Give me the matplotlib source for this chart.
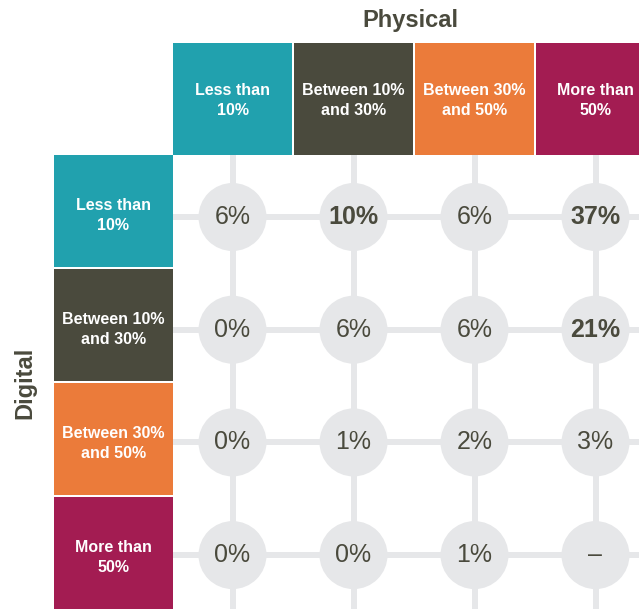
import matplotlib
matplotlib.use("Agg")
import matplotlib.pyplot as plt
from matplotlib.patches import Rectangle, Circle

# data
categories = ["Less than\n10%", "Between 10%\nand 30%", "Between 30%\nand 50%", "More than\n50%"]
# rows = digital share, columns = physical share (None = no data)
values = [
    [6, 10, 6, 37],
    [0, 6, 6, 21],
    [0, 1, 2, 3],
    [0, 0, 1, None],
]
col_title = "Physical"
row_title = "Digital"

TEAL = "#21a1ae"; DARK = "#4a4a3d"; ORANGE = "#eb7b3a"; MAGENTA = "#a31c52"
CAT_COLORS = [TEAL, DARK, ORANGE, MAGENTA]
GRID = "#e6e7e9"
INK = "#4a4a3d"
plt.rcParams["font.family"] = ["Liberation Sans", "DejaVu Sans"]

W, H = 639, 609
fig = plt.figure(figsize=(W / 100, H / 100), dpi=100)
ax = fig.add_axes([0, 0, 1, 1])
ax.set_xlim(0, W); ax.set_ylim(H, 0)
ax.axis("off")

# layout in pixels
X0, CW, GAP = 173, 121, 2      # grid columns
Y0, RH = 156, 114              # grid rows
HEAD_TOP = 43
ROW_LEFT = 54
R = 34

def cx(i): return X0 + i * CW + (CW - GAP) / 2
def cy(j): return Y0 + 61 + j * 112.7

# grid lines
for i in range(len(categories)):
    ax.plot([cx(i), cx(i)], [Y0 - 1, H], color=GRID, lw=4.3, zorder=1, solid_capstyle="butt")
for j in range(len(categories)):
    ax.plot([X0, W], [cy(j), cy(j)], color=GRID, lw=4.3, zorder=1, solid_capstyle="butt")

# column headers
for i, lab in enumerate(categories):
    ax.add_patch(Rectangle((X0 + i * CW, HEAD_TOP), CW - GAP, Y0 - 1 - HEAD_TOP,
                           color=CAT_COLORS[i], lw=0, zorder=2))
    ax.text(cx(i), (HEAD_TOP + Y0) / 2 + 1, lab, ha="center", va="center", color="white",
            fontsize=11.5, fontweight="bold", linespacing=1.45, zorder=3)

# row headers
for j, lab in enumerate(categories):
    ax.add_patch(Rectangle((ROW_LEFT, Y0 - 1 + j * RH), X0 - ROW_LEFT, RH - GAP,
                           color=CAT_COLORS[j], lw=0, zorder=2))
    ax.text((ROW_LEFT + X0) / 2, Y0 - 1 + j * RH + (RH - GAP) / 2 + 4.5, lab,
            ha="center", va="center", color="white", fontsize=11.5,
            fontweight="bold", linespacing=1.45, zorder=3)

# cells
for j, row in enumerate(values):
    for i, v in enumerate(row):
        ax.add_patch(Circle((cx(i), cy(j)), R, color=GRID, lw=0, zorder=2))
        txt = "–" if v is None else f"{v}%"
        bold = v is not None and v >= 10
        ax.text(cx(i), cy(j), txt, ha="center", va="center", color=INK,
                fontsize=18, fontweight="bold" if bold else "normal", zorder=3)

ax.text(410, 20, col_title, ha="center", va="center", color=INK,
        fontsize=17, fontweight="bold")
ax.text(25, 383, row_title, ha="center", va="center", color=INK,
        fontsize=17, fontweight="bold", rotation=90)

fig.savefig("out.png", dpi=100, facecolor="white")
